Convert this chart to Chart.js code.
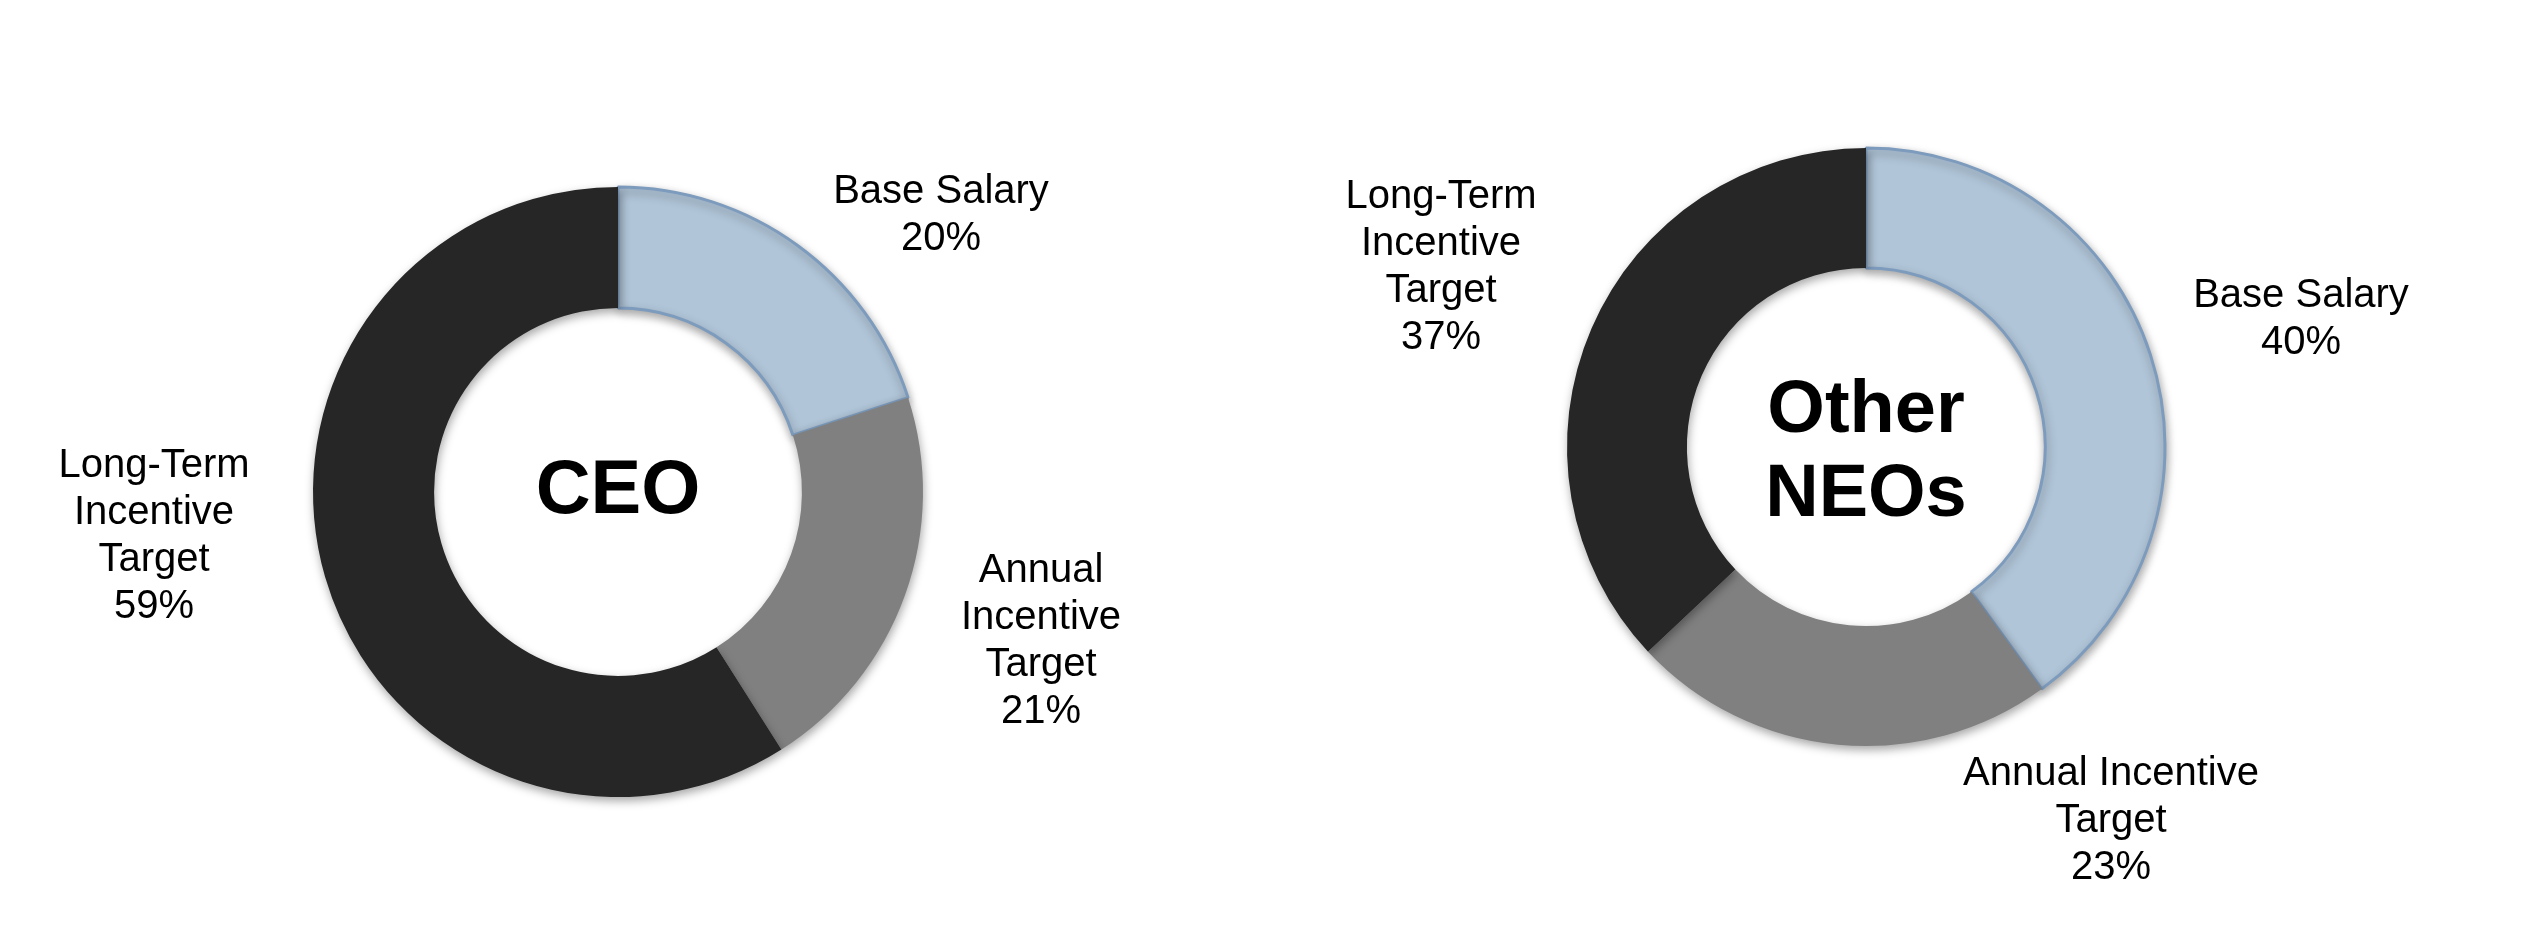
<!DOCTYPE html>
<html>
<head>
<meta charset="utf-8">
<script src="https://cdn.jsdelivr.net/npm/chart.js@4"></script>
<style>
  html, body { margin: 0; padding: 0; background: #fff; }
  #wrap { position: relative; width: 2539px; height: 926px; }
  canvas { position: absolute; top: 0; }
  #ceoChart { left: 0; }
  #neoChart { left: 1240px; }
</style>
</head>
<body>
<div id="wrap">
  <canvas id="ceoChart" width="1240" height="926"></canvas>
  <canvas id="neoChart" width="1299" height="926"></canvas>
</div>
<script>
// pay mix data (percent of target compensation)
const categories = ["Base Salary", "Annual Incentive Target", "Long-Term Incentive Target"];
const ceoValues = [20, 21, 59];
const neoValues = [40, 23, 37];

// how each chart wraps its labels
const ceoLabelLines = [["Base Salary"], ["Annual", "Incentive", "Target"], ["Long-Term", "Incentive", "Target"]];
const neoLabelLines = [["Base Salary"], ["Annual Incentive", "Target"], ["Long-Term", "Incentive", "Target"]];

const ceoTitle = ["CEO"];
const neoTitle = ["Other", "NEOs"];

const sliceColors = ["#b0c5d8", "#808080", "#262626"];
const sliceBorders = ["#7d9bbd", "#808080", "#262626"];

const FONT = "'Liberation Sans', Arial, sans-serif";

// soft drop shadow under the ring
const shadowPlugin = {
    id: "ringShadow",
    beforeDatasetsDraw(chart) {
        const c = chart.ctx;
        c.save();
        c.shadowColor = "rgba(0,0,0,0.35)";
        c.shadowBlur = 10;
        c.shadowOffsetX = 1;
        c.shadowOffsetY = 4;
    },
    afterDatasetsDraw(chart) {
        chart.ctx.restore();
    },
};

// labels outside the ring + title in the hole
const labelPlugin = {
    id: "outsideLabels",
    afterDraw(chart) {
        const opts = chart.options.plugins.outsideLabels;
        const meta = chart.getDatasetMeta(0);
        const values = chart.data.datasets[0].data;
        const cx = meta.data[0].x;
        const cy = meta.data[0].y;
        const c = chart.ctx;
        c.save();
        c.textAlign = "center";
        c.textBaseline = "middle";
        c.fillStyle = "#000";

        c.font = "40px " + FONT;
        opts.lines.forEach((lines, i) => {
            const all = lines.concat([values[i] + "%"]);
            const [dx, dy] = opts.offsets[i];
            const top = cy + dy - (all.length - 1) * opts.lineHeight / 2;
            all.forEach((t, k) => c.fillText(t, cx + dx, top + k * opts.lineHeight));
        });

        c.font = "bold " + opts.titleSize + "px " + FONT;
        const tTop = cy + opts.titleShift - (opts.title.length - 1) * opts.titleLineHeight / 2;
        opts.title.forEach((t, k) => c.fillText(t, cx, tTop + k * opts.titleLineHeight));
        c.restore();
    },
};

function makeDonut(id, values, lines, title, radius, cutout, padding, offsets, titleSize, titleShift) {
    return new Chart(document.getElementById(id).getContext("2d"), {
        type: "doughnut",
        data: {
            labels: categories,
            datasets: [
                {
                    data: values,
                    backgroundColor: sliceColors,
                    borderColor: sliceBorders,
                    borderWidth: [3, 0, 0],
                },
            ],
        },
        options: {
            responsive: false,
            animation: false,
            events: [],
            radius: radius,
            cutout: cutout,
            layout: { padding: padding },
            plugins: {
                legend: { display: false },
                tooltip: { enabled: false },
                outsideLabels: {
                    lines: lines,
                    offsets: offsets,
                    lineHeight: 47,
                    title: title,
                    titleSize: titleSize,
                    titleLineHeight: 84,
                    titleShift: titleShift,
                },
            },
        },
        plugins: [shadowPlugin, labelPlugin],
    });
}

makeDonut("ceoChart", ceoValues, ceoLabelLines, ceoTitle, 305, "60.3%",
    { left: 0, right: 4, top: 58, bottom: 0 },
    [[323, -277], [423, 149], [-464, 44]], 76, 0);

makeDonut("neoChart", neoValues, neoLabelLines, neoTitle, 299, "59.9%",
    { left: 0, right: 47, top: 0, bottom: 32 },
    [[435, -128], [245, 374], [-425, -180]], 74, 7);
</script>
</body>
</html>
